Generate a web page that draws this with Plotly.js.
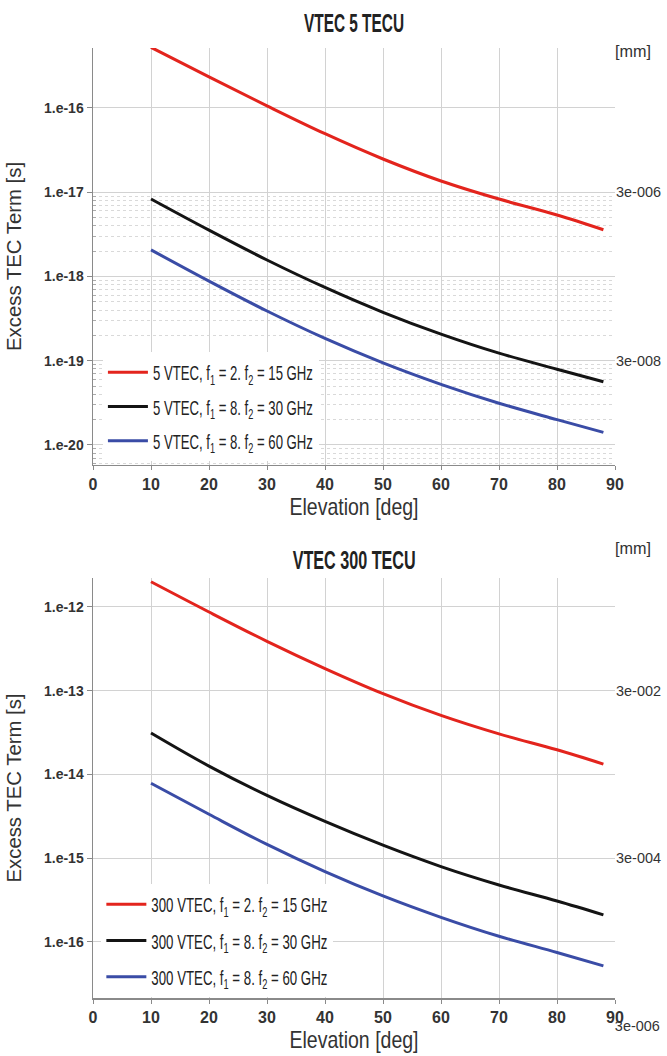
<!DOCTYPE html>
<html>
<head>
<meta charset="utf-8">
<script src="https://cdn.plot.ly/plotly-3.0.1.min.js"></script>
<style>
  html, body { margin: 0; padding: 0; background: #fff; }
  #chart { width: 667px; height: 1056px; }
</style>
</head>
<body>
<div id="chart"></div>
<script>
// ---------------- data ----------------
const elevation = [10, 20, 30, 40, 50, 60, 70, 80, 88];

// VTEC 5 TECU (excess TEC term, s)
const vtec5_f2_15 = [5.25e-16, 2.34e-16, 1.06e-16, 4.95e-17, 2.48e-17, 1.36e-17, 8.3e-18, 5.37e-18, 3.59e-18];
const vtec5_f8_30 = [8.32e-18, 3.55e-18, 1.57e-18, 7.41e-19, 3.76e-19, 2.07e-19, 1.23e-19, 7.94e-20, 5.62e-20];
const vtec5_f8_60 = [2.07e-18, 8.81e-19, 3.89e-19, 1.84e-19, 9.44e-20, 5.25e-20, 3.13e-20, 2.0e-20, 1.41e-20];

// VTEC 300 TECU (excess TEC term, s)
const vtec300_f2_15 = [2.0e-12, 8.71e-13, 3.89e-13, 1.84e-13, 9.23e-14, 5.07e-14, 3.05e-14, 1.97e-14, 1.33e-14];
const vtec300_f8_30 = [3.13e-14, 1.26e-14, 5.62e-15, 2.75e-15, 1.43e-15, 7.94e-16, 4.79e-16, 3.09e-16, 2.11e-16];
const vtec300_f8_60 = [7.85e-15, 3.35e-15, 1.46e-15, 6.92e-16, 3.55e-16, 1.97e-16, 1.17e-16, 7.5e-17, 5.19e-17];

const names5 = [
  '5 VTEC, f<sub>1</sub> = 2. f<sub>2</sub> = 15 GHz',
  '5 VTEC, f<sub>1</sub> = 8. f<sub>2</sub> = 30 GHz',
  '5 VTEC, f<sub>1</sub> = 8. f<sub>2</sub> = 60 GHz'
];
const names300 = [
  '300 VTEC, f<sub>1</sub> = 2. f<sub>2</sub> = 15 GHz',
  '300 VTEC, f<sub>1</sub> = 8. f<sub>2</sub> = 30 GHz',
  '300 VTEC, f<sub>1</sub> = 8. f<sub>2</sub> = 60 GHz'
];

const xTicks = [0, 10, 20, 30, 40, 50, 60, 70, 80, 90];
const yTicksTop = [1e-16, 1e-17, 1e-18, 1e-19, 1e-20];
const yTickTextTop = ['1.e-16', '1.e-17', '1.e-18', '1.e-19', '1.e-20'];
const yTicksBot = [1e-12, 1e-13, 1e-14, 1e-15, 1e-16];
const yTickTextBot = ['1.e-12', '1.e-13', '1.e-14', '1.e-15', '1.e-16'];

// right-hand axis in mm (delay x speed of light in mm/s)
const mmPerSecond = 3e11;
const mmTicksTop = [3e-6, 3e-8];
const mmTickTextTop = ['3e-006', '3e-008'];
const mmTicksBot = [3e-2, 3e-4];
const mmTickTextBot = ['3e-002', '3e-004'];
const mmBelowBot = 3e-6;
const mmBelowBotText = '3e-006';

// minor grid (top panel only)
const minorDecades = [1e-21, 1e-20, 1e-19, 1e-18];
const minorMantissas = [2, 3, 4, 5, 6, 7, 8, 9];

// ---------------- styling ----------------
const colors = ['#e3241d', '#141414', '#3a4ca6'];
const cond = '"Liberation Sans", Arial, sans-serif';
const arial = '"Liberation Sans", Arial, sans-serif';

const topRange = [-20.237, -15.288];
const botRange = [-16.669, -11.654];
const topDomain = [0.5611, 1];
const botDomain = [0, 0.4421];
const shift = Math.log10(mmPerSecond);

const minorVals = [];
minorDecades.forEach(d => minorMantissas.forEach(m => minorVals.push(m * d)));

const traces = [];
[vtec5_f2_15, vtec5_f8_30, vtec5_f8_60].forEach((ys, i) => {
  traces.push({
    x: elevation, y: ys, xaxis: 'x', yaxis: 'y', type: 'scatter', mode: 'lines',
    name: names5[i], legend: 'legend', legendgroup: 'a' + i,
    line: {color: colors[i], width: 3, shape: 'spline', smoothing: 1},
    hoverinfo: 'skip'
  });
});
[vtec300_f2_15, vtec300_f8_30, vtec300_f8_60].forEach((ys, i) => {
  traces.push({
    x: elevation, y: ys, xaxis: 'x2', yaxis: 'y2', type: 'scatter', mode: 'lines',
    name: names300[i], legend: 'legend2', legendgroup: 'b' + i,
    line: {color: colors[i], width: 3, shape: 'spline', smoothing: 1},
    hoverinfo: 'skip'
  });
});
// invisible carriers for the mm axes
traces.push({
  x: elevation, y: vtec5_f2_15.map(v => v * mmPerSecond), xaxis: 'x', yaxis: 'y3',
  mode: 'lines', line: {width: 0, color: 'rgba(0,0,0,0)'}, showlegend: false, hoverinfo: 'skip'
});
traces.push({
  x: elevation, y: vtec300_f2_15.map(v => v * mmPerSecond), xaxis: 'x2', yaxis: 'y4',
  mode: 'lines', line: {width: 0, color: 'rgba(0,0,0,0)'}, showlegend: false, hoverinfo: 'skip'
});

const gridColor = '#d2d2d2';
const lineColor = '#8a8a8a';

function xAxis(anchor) {
  return {
    anchor: anchor, domain: [0, 1], range: [0, 90],
    tickmode: 'array', tickvals: xTicks, ticktext: xTicks.map(String),
    ticks: 'outside', ticklen: 4, tickcolor: lineColor,
    showline: true, linecolor: lineColor, linewidth: 1.5,
    showgrid: true, gridcolor: gridColor, gridwidth: 1, zeroline: false,
    tickfont: {family: arial, size: 16, color: '#333', weight: 'bold'},
    title: {text: 'Elevation [deg]', font: {family: cond, size: 24, color: '#333'}, standoff: 4}
  };
}
function yAxis(anchor, domain, range, vals, text) {
  return {
    anchor: anchor, domain: domain, type: 'log', range: range,
    tickmode: 'array', tickvals: vals, ticktext: text,
    ticks: 'outside', ticklen: 5, tickcolor: lineColor,
    showline: true, linecolor: lineColor, linewidth: 1.5,
    showgrid: true, gridcolor: gridColor, gridwidth: 1, zeroline: false,
    tickfont: {family: arial, size: 14, color: '#333', weight: 'bold'},
    title: {text: 'Excess TEC Term [s]', font: {family: cond, size: 21, color: '#333'}, standoff: 16}
  };
}
function mmAxis(over, anchor, range, vals, text) {
  return {
    overlaying: over, anchor: anchor, side: 'right', type: 'log', range: range,
    tickmode: 'array', tickvals: vals, ticktext: text,
    ticks: '', showline: false, showgrid: false, zeroline: false,
    tickfont: {family: cond, size: 15, color: '#333'}
  };
}

const yTop = yAxis('x', topDomain, topRange, yTicksTop, yTickTextTop);
yTop.minor = {
  tickmode: 'array', tickvals: minorVals,
  showgrid: true, gridcolor: '#d9d9d9', griddash: 'dot', gridwidth: 1,
  ticks: 'inside', ticklen: 3, tickcolor: '#aaa'
};

// paper position of the "3e-006" label that sits below the lower panel
const belowFrac = botDomain[0] + (botDomain[1] - botDomain[0]) *
  (Math.log10(mmBelowBot) - (botRange[0] + shift)) / (botRange[1] - botRange[0]);

const layout = {
  width: 667, height: 1056,
  paper_bgcolor: '#fff', plot_bgcolor: '#fff',
  margin: {l: 93, r: 52, t: 48, b: 58},
  showlegend: true,
  title: {
    text: 'VTEC 5 TECU', x: 0.5, xref: 'paper', y: 1 - 23 / 1056, yref: 'container',
    xanchor: 'center', yanchor: 'middle',
    font: {family: cond, size: 25, color: '#222', weight: 'bold'}
  },
  xaxis: xAxis('y'),
  yaxis: yTop,
  xaxis2: xAxis('y2'),
  yaxis2: yAxis('x2', botDomain, botRange, yTicksBot, yTickTextBot),
  yaxis3: mmAxis('y', 'x', [topRange[0] + shift, topRange[1] + shift], mmTicksTop, mmTickTextTop),
  yaxis4: mmAxis('y2', 'x2', [botRange[0] + shift, botRange[1] + shift], mmTicksBot, mmTickTextBot),
  legend: {
    x: 0.019, xanchor: 'left', y: 0.68, yanchor: 'top',
    bgcolor: '#fff', borderwidth: 0, traceorder: 'grouped', tracegroupgap: 4,
    itemwidth: 40, font: {family: cond, size: 21, color: '#222'}
  },
  legend2: {
    x: 0.016, xanchor: 'left', y: 0.12, yanchor: 'top',
    bgcolor: '#fff', borderwidth: 0, traceorder: 'grouped', tracegroupgap: 6,
    itemwidth: 40, font: {family: cond, size: 21, color: '#222'}
  },
  annotations: [
    {text: 'VTEC 300 TECU', xref: 'paper', yref: 'paper', x: 0.5, y: (998 - 560) / 950,
     xanchor: 'center', yanchor: 'middle', showarrow: false,
     font: {family: cond, size: 25, color: '#222', weight: 'bold'}},
    {text: '[mm]', xref: 'paper', yref: 'paper', x: 1, y: (998 - 51) / 950,
     xanchor: 'left', yanchor: 'middle', showarrow: false, xshift: -3,
     font: {family: cond, size: 17, color: '#333'}},
    {text: '[mm]', xref: 'paper', yref: 'paper', x: 1, y: (998 - 548) / 950,
     xanchor: 'left', yanchor: 'middle', showarrow: false, xshift: -3,
     font: {family: cond, size: 17, color: '#333'}},
    {text: mmBelowBotText, xref: 'paper', yref: 'paper', x: 1, y: belowFrac,
     xanchor: 'left', yanchor: 'middle', showarrow: false, xshift: -3,
     font: {family: cond, size: 15, color: '#333'}}
  ]
};

// squeeze text horizontally to imitate the very condensed face of the original
function fitWidth(el, target) {
  if (el.getAttribute('textLength') !== String(target)) {
    el.setAttribute('textLength', target);
    el.setAttribute('lengthAdjust', 'spacingAndGlyphs');
  }
}
function squeezeAll(sel, target) {
  document.querySelectorAll(sel).forEach(el => fitWidth(el, target));
}
function legendTarget(el) {
  return /^\s*300/.test(el.textContent) ? 176 : 160;
}

function squeeze() {
  const gt = document.querySelector('.gtitle');
  if (gt) fitWidth(gt, 100);
  document.querySelectorAll('.annotation-text').forEach(el => {
    const t = el.textContent;
    if (t === 'VTEC 300 TECU') fitWidth(el, 123);
    else if (t === '[mm]') fitWidth(el, 36);
    else fitWidth(el, 45);
  });
  squeezeAll('.xtitle', 129);
  squeezeAll('.x2title', 129);
  squeezeAll('.ytitle', 189);
  squeezeAll('.y2title', 189);
  squeezeAll('.y3tick text', 45);
  squeezeAll('.y4tick text', 45);

  // legend texts, wherever they live
  document.querySelectorAll('svg text').forEach(el => {
    if (/VTEC,/.test(el.textContent)) fitWidth(el, legendTarget(el));
  });
  // shrink legend backgrounds to the squeezed text
  document.querySelectorAll('rect.bg').forEach(bg => {
    const g = bg.parentNode;
    if (!g) return;
    const texts = Array.from(g.querySelectorAll('text')).filter(t => /VTEC,/.test(t.textContent));
    if (!texts.length) return;
    let right = 0;
    texts.forEach(el => {
      right = Math.max(right, parseFloat(el.getAttribute('x') || '0') + legendTarget(el));
    });
    const w = String(right + 6);
    if (bg.getAttribute('width') !== w) bg.setAttribute('width', w);
  });
}

const gd = document.getElementById('chart');
const obs = new MutationObserver(() => squeeze());
obs.observe(gd, {childList: true, subtree: true});
Plotly.newPlot(gd, traces, layout, {displayModeBar: false, staticPlot: true}).then(() => {
  squeeze();
  setTimeout(squeeze, 50);
});
</script>
</body>
</html>
